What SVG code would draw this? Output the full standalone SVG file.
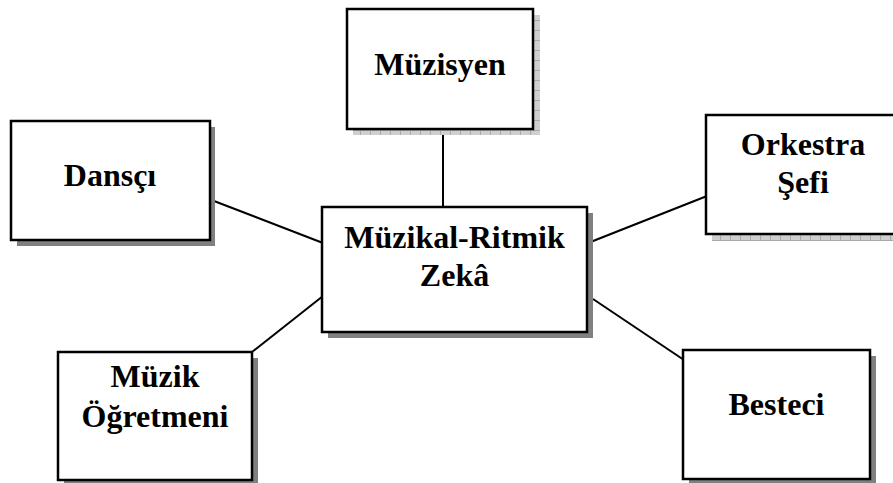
<svg xmlns="http://www.w3.org/2000/svg" width="893" height="483" viewBox="0 0 893 483">
  <style>
    .box { fill: #ffffff; stroke: #000000; stroke-width: 2.5; }
    .shadow { fill: #808080; }
    .shadow-light { fill: url(#grid); }
    .label { font-family: "Liberation Serif", "Times New Roman", serif; font-weight: bold; font-size: 32px; fill: #000000; text-anchor: middle; }
    .link { stroke: #000000; stroke-width: 2; fill: none; }
  </style>
  <defs>
    <pattern id="grid" width="10" height="10" patternUnits="userSpaceOnUse">
      <rect width="10" height="10" fill="#cfcfcf"/>
      <path d="M0 0.5H10M0.5 0V10" stroke="#a9a9a9" stroke-width="1"/>
    </pattern>
  </defs>

  <rect width="893" height="483" fill="#ffffff"/>

  <g id="connectors">
    <line class="link" x1="443" y1="128" x2="443" y2="207"/>
    <line class="link" x1="214" y1="201" x2="323" y2="243"/>
    <line class="link" x1="588" y1="243" x2="707" y2="196"/>
    <line class="link" x1="593" y1="299" x2="684" y2="360"/>
    <line class="link" x1="252" y1="352" x2="323" y2="296"/>
  </g>

  <g id="muzisyen">
    <rect class="shadow-light" x="353" y="15" width="187" height="120"/>
    <rect class="box" x="347" y="9" width="186" height="120"/>
    <text class="label" x="440" y="75">Müzisyen</text>
  </g>

  <g id="dansci">
    <rect class="shadow" x="17" y="127" width="198" height="119"/>
    <rect class="box" x="11" y="121" width="199" height="119"/>
    <text class="label" x="110" y="186">Dansçı</text>
  </g>

  <g id="orkestra-sefi">
    <rect class="shadow-light" x="712" y="121" width="195" height="120"/>
    <rect class="box" x="706" y="115" width="195" height="119"/>
    <text class="label" x="803" y="155">Orkestra</text>
    <text class="label" x="803" y="193">Şefi</text>
  </g>

  <g id="muzikal-ritmik-zeka">
    <rect class="shadow" x="328" y="213" width="265" height="125"/>
    <rect class="box" x="322" y="207" width="265" height="125"/>
    <text class="label" x="454.5" y="248">Müzikal-Ritmik</text>
    <text class="label" x="454.5" y="286">Zekâ</text>
  </g>

  <g id="muzik-ogretmeni">
    <rect class="shadow" x="64" y="358" width="194" height="128"/>
    <rect class="box" x="58" y="352" width="194" height="128"/>
    <text class="label" x="155" y="387">Müzik</text>
    <text class="label" x="155" y="427">Öğretmeni</text>
  </g>

  <g id="besteci">
    <rect class="shadow" x="689" y="356" width="187" height="129"/>
    <rect class="box" x="683" y="350" width="187" height="129"/>
    <text class="label" x="776.5" y="415">Besteci</text>
  </g>
</svg>
